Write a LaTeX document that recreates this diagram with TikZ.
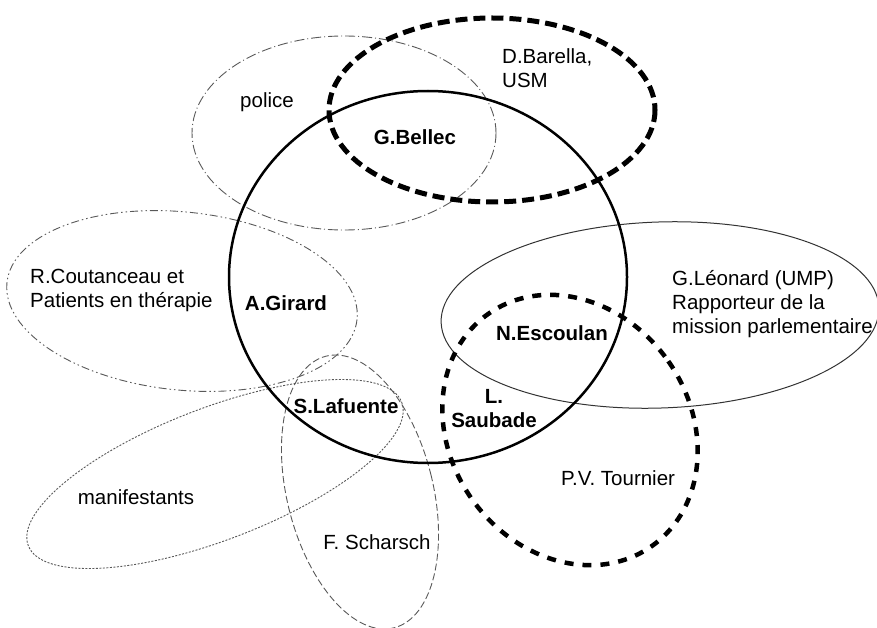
\documentclass[tikz,border=0pt]{standalone}
\usepackage{fontspec}
\setmainfont{Liberation Sans}
\usepackage{tikz}
\tikzset{x=1pt,y=-1pt}
\def\lbl{\fontsize{20.5}{24}\selectfont}

\begin{document}
\begin{tikzpicture}[every node/.style={inner sep=0pt,font=\lbl},
  key/.style={font=\lbl\bfseries},
  thinline/.style={line width=.9pt,black!65},
  bigring/.style={line width=2.5pt},
  usmline/.style={line width=5pt,dash pattern=on 12pt off 6pt},
  pvline/.style={line width=4.5pt,dash pattern=on 9pt off 9pt}]
  \useasboundingbox (0,0) rectangle (877,628);
  % the sets
  \draw[thinline,dash pattern=on 10pt off 3pt on 1pt off 3pt] (344,133) ellipse [x radius=152,y radius=97];
  \draw[thinline,dash pattern=on 8pt off 3pt on 1.5pt off 3pt on 1.5pt off 3pt,
    rotate around={-6:(182,301)}] (182,301) ellipse [x radius=176,y radius=89];
  \draw[thinline,dash pattern=on 2pt off 1.5pt,
    rotate around={21:(215,474)}] (215,474) ellipse [x radius=200,y radius=66];
  \draw[thinline,dash pattern=on 7pt off 3pt,
    rotate around={14:(360,492)}] (360,492) ellipse [x radius=73,y radius=140];
  \draw[line width=1pt,black!80,rotate around={2:(660,315)}] (660,315) ellipse [x radius=219,y radius=93];
  \draw[usmline] (492,110) ellipse [x radius=163,y radius=92];
  \draw[pvline,rotate around={35:(570,430)}] (570,430) ellipse [x radius=120,y radius=142];
  \draw[bigring] (428,277) ellipse [x radius=199,y radius=186];
  % the names
  \node (police) at (267,102) {police};
  \node[anchor=west,align=left] (barella) at (502,68) {D.Barella,\\USM};
  \node[key] (bellec) at (415,137) {G.Bellec};
  \node[anchor=west,align=left] (coutanceau) at (30,290) {R.Coutanceau et\\Patients en thérapie};
  \node[key] (girard) at (286,303) {A.Girard};
  \node[anchor=west,align=left] (leonard) at (672,304) {G.Léonard (UMP)\\Rapporteur de la\\mission parlementaire};
  \node[key] (escoulan) at (552,333) {N.Escoulan};
  \node[key,align=center] (saubade) at (494,409) {L.\\Saubade};
  \node[key] (lafuente) at (346,406) {S.Lafuente};
  \node (tournier) at (618,478) {P.V. Tournier};
  \node (manif) at (136,497) {manifestants};
  \node (scharsch) at (377,542) {F. Scharsch};
\end{tikzpicture}
\end{document}
